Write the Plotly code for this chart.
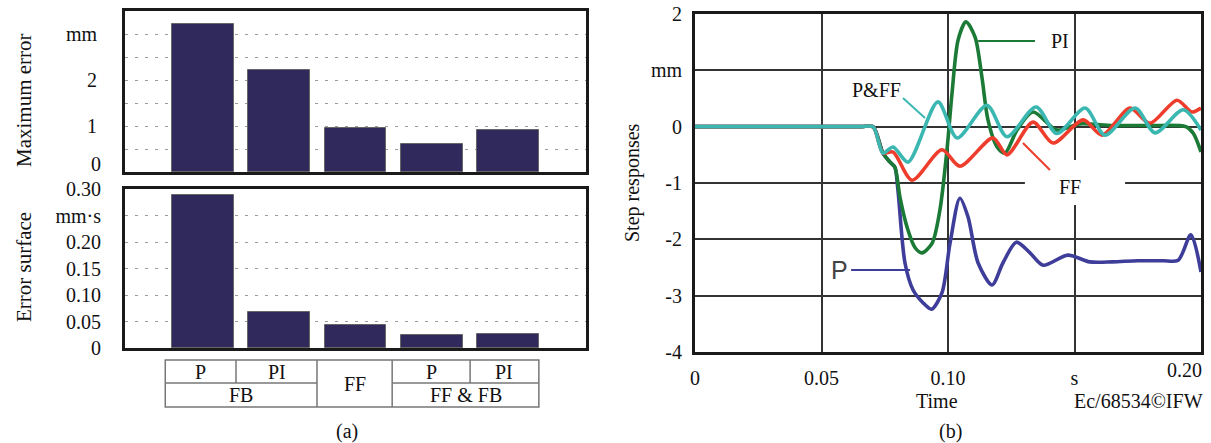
import plotly.graph_objects as go

# ---------------- data ----------------
categories = ["FB P", "FB PI", "FF", "FF&FB P", "FF&FB PI"]
max_error = [3.21, 2.22, 0.96, 0.60, 0.91]          # mm
error_surface = [0.289, 0.067, 0.043, 0.025, 0.027]  # mm*s

top_row = ["P", "PI", "P", "PI"]
bottom_row = ["FB", "FF", "FF & FB"]

max_ticks = [0, 0.5, 1, 1.5, 2, 2.5, 3]
max_ticktext = ["0", "", "1", "", "2", "", "mm"]
surf_ticks = [0, 0.05, 0.10, 0.15, 0.20, 0.25, 0.30]
surf_ticktext = ["0", "0.05", "0.10", "0.15", "0.20", "mm·s", "0.30"]

time_ticks = [0, 0.05, 0.10, 0.15, 0.20]
time_ticktext = ["0", "0.05", "0.10", "s", "0.20"]
step_ticks = [-4, -3, -2, -1, 0, 1, 2]
step_ticktext = ["-4", "-3", "-2", "-1", "0", "mm", "2"]

t_P = [0, 0.02, 0.04, 0.06, 0.066, 0.0704, 0.0743, 0.0771, 0.0790, 0.0802, 0.0830, 0.0862,
       0.0900, 0.0935, 0.0976, 0.1008, 0.1047, 0.1079, 0.1119, 0.1174, 0.1217, 0.1270,
       0.1324, 0.1376, 0.1474, 0.1560, 0.1650, 0.1750, 0.1850, 0.1910, 0.1960, 0.2000]
y_P = [0, 0, 0, 0, 0, 0, -0.47, -0.63, -0.72, -1.12, -2.42, -2.90,
       -3.12, -3.24, -2.95, -2.07, -1.27, -1.60, -2.42, -2.81, -2.42, -2.05,
       -2.24, -2.46, -2.28, -2.40, -2.40, -2.38, -2.38, -2.37, -1.92, -2.58]

t_PI = [0, 0.02, 0.04, 0.06, 0.066, 0.0704, 0.0743, 0.0771, 0.0790, 0.0810, 0.0838, 0.0870,
        0.0897, 0.0937, 0.0968, 0.0996, 0.1016, 0.1040, 0.1071, 0.1107, 0.1134, 0.1158,
        0.1194, 0.1225, 0.1273, 0.1336, 0.1430, 0.1520, 0.1650, 0.1800, 0.1940, 0.1970, 0.2000]
y_PI = [0, 0, 0, 0, 0, 0, -0.47, -0.63, -0.72, -1.25, -1.78, -2.15,
        -2.24, -2.07, -1.48, -0.41, 0.60, 1.54, 1.86, 1.59, 0.88, 0.12,
        -0.36, -0.47, -0.06, 0.26, -0.06, 0.05, 0.02, 0.02, 0.0, -0.12, -0.45]

t_FF = [0, 0.02, 0.04, 0.06, 0.066, 0.0704, 0.0743, 0.0783, 0.0858, 0.0976, 0.1047, 0.1178,
        0.1233, 0.1336, 0.1415, 0.1534, 0.1609, 0.1720, 0.1798, 0.1905, 0.1964, 0.2000]
y_FF = [0, 0, 0, 0, 0, 0, -0.47, -0.45, -0.95, -0.41, -0.70, -0.20,
        -0.50, 0.08, -0.29, 0.12, -0.15, 0.33, 0.06, 0.47, 0.26, 0.33]

t_PFF = [0, 0.02, 0.04, 0.06, 0.066, 0.0704, 0.0743, 0.0783, 0.0842, 0.0960, 0.1036, 0.1154,
         0.1233, 0.1348, 0.1430, 0.1542, 0.1620, 0.1740, 0.1818, 0.1930, 0.2000]
y_PFF = [0, 0, 0, 0, 0, 0, -0.47, -0.36, -0.63, 0.44, -0.20, 0.38,
         -0.18, 0.35, -0.12, 0.33, -0.15, 0.33, -0.11, 0.30, -0.06]

# ---------------- styles ----------------
W, H = 1211, 443
SERIF = "Liberation Serif, Times New Roman, serif"
BAR_FILL = "#302a5c"
C_P, C_PI, C_FF, C_PFF = "#3e3d99", "#1c7a37", "#ee3d2c", "#3bb7b1"


def px(x):
    return x / W


def py(y):
    return 1 - y / H


fig = go.Figure()

fig.add_trace(go.Bar(x=categories, y=max_error, xaxis="x", yaxis="y", width=0.81,
                     marker=dict(color=BAR_FILL, line=dict(color="#666", width=1)),
                     showlegend=False))
fig.add_trace(go.Bar(x=categories, y=error_surface, xaxis="x2", yaxis="y2", width=0.81,
                     marker=dict(color=BAR_FILL, line=dict(color="#666", width=1)),
                     showlegend=False))

for tt, yy, col in [(t_P, y_P, C_P), (t_PI, y_PI, C_PI), (t_FF, y_FF, C_FF), (t_PFF, y_PFF, C_PFF)]:
    fig.add_trace(go.Scatter(x=tt, y=yy, xaxis="x3", yaxis="y3", mode="lines",
                             line=dict(color=col, width=3.6, shape="spline", smoothing=0.8),
                             showlegend=False, hoverinfo="skip"))

frame = dict(showline=True, mirror=True, linewidth=3, linecolor="#1a1a1a", zeroline=False,
             automargin=False)
tickfont = dict(family=SERIF, size=20, color="#111")

left_dom = [px(125), px(586)]
fig.update_layout(
    template="none",
    width=W, height=H, margin=dict(l=0, r=0, t=0, b=0, pad=0), autosize=False,
    paper_bgcolor="white", plot_bgcolor="white", bargap=0, showlegend=False,
    xaxis=dict(domain=left_dom, anchor="y", type="category", range=[-1.017, 5.017],
               showticklabels=False, showgrid=False, ticks="", **frame),
    yaxis=dict(domain=[py(172), py(11)], anchor="x", range=[0, 3.5],
               tickvals=max_ticks, ticktext=[""] + max_ticktext[1:], tickfont=tickfont,
               ticks="outside", ticklen=21, tickcolor="rgba(0,0,0,0)",
               showgrid=True, gridcolor="#9a9a9a", gridwidth=1.3, griddash="3px,7px", **frame),
    xaxis2=dict(domain=left_dom, anchor="y2", type="category", range=[-1.017, 5.017],
                showticklabels=False, showgrid=False, ticks="", **frame),
    yaxis2=dict(domain=[py(348), py(189)], anchor="x2", range=[0, 0.30],
                tickvals=surf_ticks, ticktext=surf_ticktext, tickfont=tickfont,
                ticks="outside", ticklen=17, tickcolor="rgba(0,0,0,0)",
                showgrid=True, gridcolor="#9a9a9a", gridwidth=1.3, griddash="3px,7px", **frame),
    xaxis3=dict(domain=[px(695), px(1201)], anchor="y3", range=[0, 0.2],
                tickvals=time_ticks, ticktext=time_ticktext[:-1] + [""], tickfont=tickfont,
                ticks="outside", ticklen=6, tickcolor="rgba(0,0,0,0)",
                showgrid=True, gridcolor="#333", gridwidth=1.6, **frame),
    yaxis3=dict(domain=[py(352), py(14)], anchor="x3", range=[-4, 2],
                tickvals=step_ticks, ticktext=step_ticktext, tickfont=tickfont,
                ticks="outside", ticklen=6, tickcolor="rgba(0,0,0,0)",
                showgrid=True, gridcolor="#333", gridwidth=1.6, **frame),
)

shapes = []
annotations = []

# ---- category table below left chart ----
col_edges = [-0.49, 0.436, 1.496, 2.48, 3.50, 4.40]
y_top, y_mid, y_bot = py(360), py(383), py(407)
tline = dict(color="#777", width=1.5)
shapes.append(dict(type="rect", xref="x2", yref="paper", x0=col_edges[0], x1=col_edges[-1],
                   y0=y_bot, y1=y_top, line=tline))
shapes.append(dict(type="line", xref="x2", yref="paper", x0=col_edges[0], x1=col_edges[2],
                   y0=y_mid, y1=y_mid, line=tline))
shapes.append(dict(type="line", xref="x2", yref="paper", x0=col_edges[3], x1=col_edges[5],
                   y0=y_mid, y1=y_mid, line=tline))
for e in (col_edges[1], col_edges[4]):
    shapes.append(dict(type="line", xref="x2", yref="paper", x0=e, x1=e, y0=y_mid, y1=y_top, line=tline))
for e in (col_edges[2], col_edges[3]):
    shapes.append(dict(type="line", xref="x2", yref="paper", x0=e, x1=e, y0=y_bot, y1=y_top, line=tline))

cellfont = dict(family=SERIF, size=20, color="#111")
top_cells = [(col_edges[0], col_edges[1]), (col_edges[1], col_edges[2]),
             (col_edges[3], col_edges[4]), (col_edges[4], col_edges[5])]
for (a, b), lab in zip(top_cells, top_row):
    annotations.append(dict(xref="x2", yref="paper", x=(a + b) / 2, y=(y_top + y_mid) / 2,
                            xanchor="center", yanchor="middle",
                            text=lab, showarrow=False, font=cellfont))
bottom_cells = [((col_edges[0] + col_edges[2]) / 2, (y_mid + y_bot) / 2),
                ((col_edges[2] + col_edges[3]) / 2, (y_top + y_bot) / 2),
                ((col_edges[3] + col_edges[5]) / 2, (y_mid + y_bot) / 2)]
for (cx, cy), lab in zip(bottom_cells, bottom_row):
    annotations.append(dict(xref="x2", yref="paper", x=cx, y=cy, text=lab, showarrow=False,
                            xanchor="center", yanchor="middle", font=cellfont))


# ---- axis titles / captions ----
def txt(x, y, s, size=20, angle=0, xanchor="center", family=SERIF, color="#111"):
    annotations.append(dict(xref="paper", yref="paper", x=px(x), y=py(y), text=s,
                            showarrow=False, textangle=angle, xanchor=xanchor, yanchor="middle",
                            font=dict(family=family, size=size, color=color)))


txt(24, 100, "Maximum error", size=21, angle=-90)
txt(24, 267, "Error surface", size=21, angle=-90)
txt(347, 431, "(a)")
txt(632, 183, "Step responses", size=20, angle=-90)
txt(937, 401, "Time")
txt(1205, 401, "Ec/68534©IFW", xanchor="right")
txt(950, 431, "(b)")
# tick labels that sit off their usual spot in the original
txt(1204, 370, time_ticktext[-1], xanchor="right")
txt(103, 164, max_ticktext[0], xanchor="right")

# ---- curve labels on right chart ----
shapes.append(dict(type="rect", xref="x3", yref="y3", x0=0.1304, x1=0.1700, y0=-1.39, y1=-0.59,
                   fillcolor="white", line=dict(width=0), layer="above"))
leaders = [((0.1119, 1.52), (0.1344, 1.52), C_PI),
           ((0.0822, 0.509), (0.0909, 0.154), C_PFF),
           ((0.1296, -0.29), (0.1403, -0.77), C_FF),
           ((0.0617, -2.545), (0.0850, -2.545), C_P)]
for (x0, y0), (x1, y1), c in leaders:
    shapes.append(dict(type="line", xref="x3", yref="y3", x0=x0, y0=y0, x1=x1, y1=y1,
                       line=dict(color=c, width=2), layer="above"))

for x, y, s, fam, size, col in [(0.1443, 1.52, "PI", SERIF, 20, "#111"),
                                (0.0719, 0.651, "P&FF", SERIF, 20, "#111"),
                                (0.1482, -1.07, "FF", SERIF, 20, "#111"),
                                (0.0573, -2.545, "P", "Liberation Sans, Arial, sans-serif", 25, "#444")]:
    annotations.append(dict(xref="x3", yref="y3", x=x, y=y, text=s, showarrow=False,
                            xanchor="center", yanchor="middle",
                            font=dict(family=fam, size=size, color=col)))

fig.update_layout(shapes=shapes, annotations=annotations)
fig.write_html("out.html", config={"displayModeBar": False},
               post_script="document.body.style.margin='0';document.body.style.overflow='hidden';")
